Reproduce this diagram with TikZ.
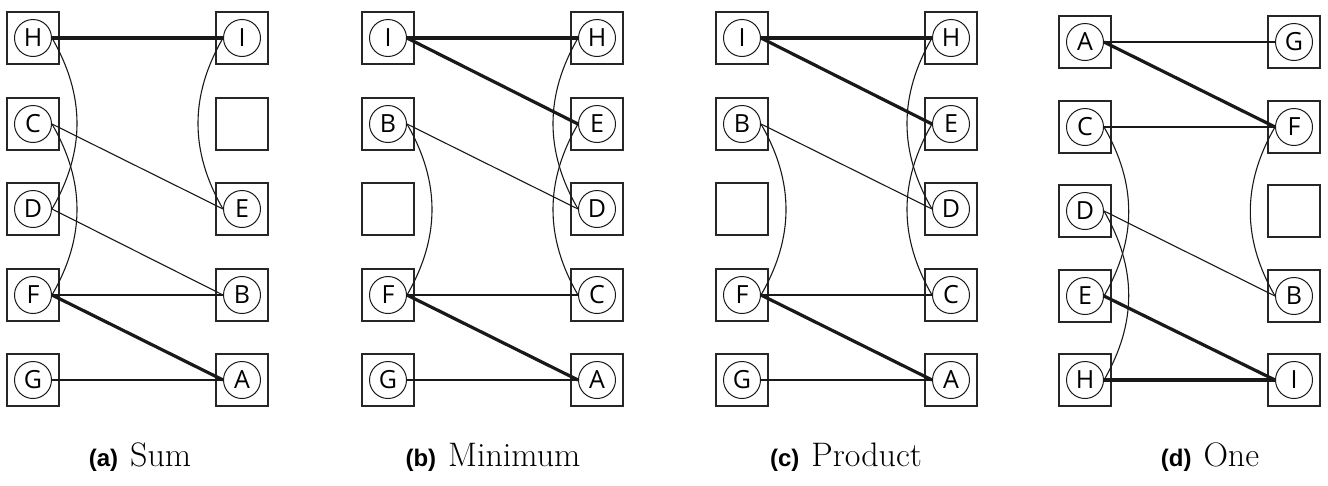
\documentclass[tikz,border=0pt]{standalone}
\usepackage{fontspec}
\newfontfamily\letterfont{Open Sans}
\newfontfamily\capfont{Liberation Sans}
\begin{document}
\begin{tikzpicture}[x=1pt,y=-1pt]
\tikzstyle{mybox} = [draw=black!85, line width=1.3pt, minimum size=52pt, inner sep=0pt] % square slot
\tikzstyle{myvar} = [circle, draw=black!90, line width=1pt, minimum size=37pt, inner sep=0pt, font=\letterfont\fontsize{25}{25}\selectfont] % variable in a slot
\tikzstyle{weak} = [line width=1.1pt, black!90] % ordinary link
\tikzstyle{strong} = [line width=3.2pt, black!90] % heavy link
\tikzstyle{mycap} = [anchor=base, font=\fontsize{34}{36}\selectfont] % subfigure caption
\useasboundingbox (0,0) rectangle (1328,485);

% (a) Sum
\node[mybox] (a1) at (33,38) {};   \node[myvar] (aH) at (a1) {H};
\node[mybox] (a2) at (33,124) {};  \node[myvar] (aC) at (a2) {C};
\node[mybox] (a3) at (33,209) {};  \node[myvar] (aD) at (a3) {D};
\node[mybox] (a4) at (33,295) {};  \node[myvar] (aF) at (a4) {F};
\node[mybox] (a5) at (33,380) {};  \node[myvar] (aG) at (a5) {G};
\node[mybox] (a6) at (242,38) {};  \node[myvar] (aI) at (a6) {I};
\node[mybox] (a7) at (242,124) {};
\node[mybox] (a8) at (242,209) {}; \node[myvar] (aE) at (a8) {E};
\node[mybox] (a9) at (242,295) {}; \node[myvar] (aB) at (a9) {B};
\node[mybox] (a10) at (242,380) {}; \node[myvar] (aA) at (a10) {A};
\draw[strong] (aH.east) -- (aI.west);
\draw[weak] (aH.east) to[bend left=30] (aD.east);
\draw[weak] (aC.east) to[bend left=30] (aF.east);
\draw[weak] (aI.west) to[bend right=30] (aE.west);
\draw[weak] (aC.east) -- (aE.west);
\draw[weak] (aD.east) -- (aB.west);
\draw[weak] (aF.east) -- (aB.west);
\draw[strong] (aF.east) -- (aA.west);
\draw[weak] (aG.east) -- (aA.west);
\node[mycap] (capa) at (140,466) {{\capfont\bfseries\fontsize{24}{24}\selectfont (a)}\hspace{12pt}Sum};

% (b) Minimum
\node[mybox] (b1) at (388,38) {};  \node[myvar] (bI) at (b1) {I};
\node[mybox] (b2) at (388,124) {}; \node[myvar] (bB) at (b2) {B};
\node[mybox] (b3) at (388,209) {};
\node[mybox] (b4) at (388,295) {}; \node[myvar] (bF) at (b4) {F};
\node[mybox] (b5) at (388,380) {}; \node[myvar] (bG) at (b5) {G};
\node[mybox] (b6) at (597,38) {};  \node[myvar] (bH) at (b6) {H};
\node[mybox] (b7) at (597,124) {}; \node[myvar] (bE) at (b7) {E};
\node[mybox] (b8) at (597,209) {}; \node[myvar] (bD) at (b8) {D};
\node[mybox] (b9) at (597,295) {}; \node[myvar] (bC) at (b9) {C};
\node[mybox] (b10) at (597,380) {}; \node[myvar] (bA) at (b10) {A};
\draw[strong] (bI.east) -- (bH.west);
\draw[strong] (bI.east) -- (bE.west);
\draw[weak] (bB.east) to[bend left=30] (bF.east);
\draw[weak] (bH.west) to[bend right=30] (bD.west);
\draw[weak] (bE.west) to[bend right=30] (bC.west);
\draw[weak] (bB.east) -- (bD.west);
\draw[weak] (bF.east) -- (bC.west);
\draw[strong] (bF.east) -- (bA.west);
\draw[weak] (bG.east) -- (bA.west);
\node[mycap] (capb) at (493,466) {{\capfont\bfseries\fontsize{24}{24}\selectfont (b)}\hspace{12pt}Minimum};

% (c) Product
\node[mybox] (c1) at (742,38) {};  \node[myvar] (cI) at (c1) {I};
\node[mybox] (c2) at (742,124) {}; \node[myvar] (cB) at (c2) {B};
\node[mybox] (c3) at (742,209) {};
\node[mybox] (c4) at (742,295) {}; \node[myvar] (cF) at (c4) {F};
\node[mybox] (c5) at (742,380) {}; \node[myvar] (cG) at (c5) {G};
\node[mybox] (c6) at (951,38) {};  \node[myvar] (cH) at (c6) {H};
\node[mybox] (c7) at (951,124) {}; \node[myvar] (cE) at (c7) {E};
\node[mybox] (c8) at (951,209) {}; \node[myvar] (cD) at (c8) {D};
\node[mybox] (c9) at (951,295) {}; \node[myvar] (cC) at (c9) {C};
\node[mybox] (c10) at (951,380) {}; \node[myvar] (cA) at (c10) {A};
\draw[strong] (cI.east) -- (cH.west);
\draw[strong] (cI.east) -- (cE.west);
\draw[weak] (cB.east) to[bend left=30] (cF.east);
\draw[weak] (cH.west) to[bend right=30] (cD.west);
\draw[weak] (cE.west) to[bend right=30] (cC.west);
\draw[weak] (cB.east) -- (cD.west);
\draw[weak] (cF.east) -- (cC.west);
\draw[strong] (cF.east) -- (cA.west);
\draw[weak] (cG.east) -- (cA.west);
\node[mycap] (capc) at (846,466) {{\capfont\bfseries\fontsize{24}{24}\selectfont (c)}\hspace{12pt}Product};

% (d) One
\node[mybox] (d1) at (1085,42) {};  \node[myvar] (dA) at (d1) {A};
\node[mybox] (d2) at (1085,127) {}; \node[myvar] (dC) at (d2) {C};
\node[mybox] (d3) at (1085,211) {}; \node[myvar] (dD) at (d3) {D};
\node[mybox] (d4) at (1085,296) {}; \node[myvar] (dE) at (d4) {E};
\node[mybox] (d5) at (1085,380) {}; \node[myvar] (dH) at (d5) {H};
\node[mybox] (d6) at (1294,42) {};  \node[myvar] (dG) at (d6) {G};
\node[mybox] (d7) at (1294,127) {}; \node[myvar] (dF) at (d7) {F};
\node[mybox] (d8) at (1294,211) {};
\node[mybox] (d9) at (1294,296) {}; \node[myvar] (dB) at (d9) {B};
\node[mybox] (d10) at (1294,380) {}; \node[myvar] (dI) at (d10) {I};
\draw[weak] (dA.east) -- (dG.west);
\draw[strong] (dA.east) -- (dF.west);
\draw[weak] (dC.east) -- (dF.west);
\draw[weak] (dC.east) to[bend left=30] (dE.east);
\draw[weak] (dD.east) to[bend left=30] (dH.east);
\draw[weak] (dF.west) to[bend right=30] (dB.west);
\draw[weak] (dD.east) -- (dB.west);
\draw[strong] (dE.east) -- (dI.west);
\draw[strong] (dH.east) -- (dI.west);
\node[mycap] (capd) at (1210,466) {{\capfont\bfseries\fontsize{24}{24}\selectfont (d)}\hspace{12pt}One};
\end{tikzpicture}
\end{document}
